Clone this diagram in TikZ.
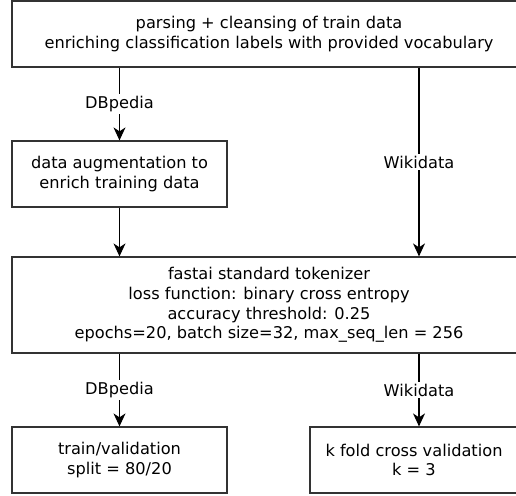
\documentclass[tikz,border=0pt]{standalone}
\usepackage{fontspec}
\setsansfont{DejaVu Sans}
\usetikzlibrary{arrows.meta, positioning}
\definecolor{boxgray}{rgb}{0.2,0.2,0.2}

\begin{document}
\begin{tikzpicture}[x=1pt, y=-1pt, >={Stealth[length=13pt, width=12pt, inset=4pt]},
    box/.style={draw=boxgray, line width=1.2pt, rectangle, align=center, inner sep=0pt,
        font=\sffamily\fontsize{16.2}{19.6}\selectfont},
    flow/.style={->, line width=1.1pt},
    src/.style={fill=white, inner sep=2pt, font=\sffamily\fontsize{16.2}{19.6}\selectfont}]

    % page size, the boxes on the right run past it
    \useasboundingbox (0,0) rectangle (516,495);

    % the boxes:

    \node[box, minimum width=514pt, minimum height=66pt] (parse) at (269,34)
        {parsing + cleansing of train data\\enriching classification labels with provided vocabulary};

    \node[box, minimum width=215pt, minimum height=66pt] (augment) at (119.5,174)
        {data augmentation to\\enrich training data};

    \node[box, minimum width=514pt, minimum height=96pt] (tokenizer) at (269,305)
        {fastai standard tokenizer\\loss function: binary cross entropy\\accuracy threshold: 0.25\\epochs=20, batch size=32, max\_seq\_len = 256};

    \node[box, minimum width=215pt, minimum height=66pt] (trainval) at (119.5,460)
        {train/validation\\split = 80/20};

    \node[box, minimum width=208pt, minimum height=66pt] (kfold) at (414,460)
        {k fold cross validation\\k = 3};

    % right hand column for the Wikidata arrows
    \coordinate (rcol) at (419,0);

    % arrows between the boxes, labelled with the source
    \draw[flow] (parse.south -| augment) -- node[src] {DBpedia} (augment.north);
    \draw[flow] (parse.south -| rcol) -- node[src] {Wikidata} (tokenizer.north -| rcol);
    \draw[flow] (augment.south) -- (tokenizer.north -| augment);

    \draw[flow] (tokenizer.south -| trainval) -- node[src] {DBpedia} (trainval.north);
    \draw[flow] (tokenizer.south -| rcol) -- node[src] {Wikidata} (kfold.north -| rcol);
%
\end{tikzpicture}
\end{document}
